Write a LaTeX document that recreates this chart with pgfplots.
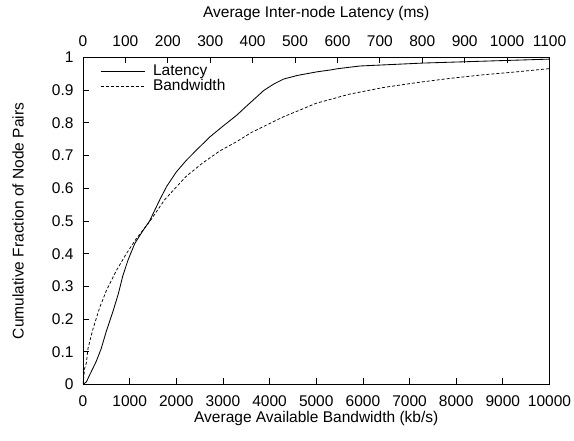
\documentclass[border=0pt]{standalone}
\usepackage{fontspec}
\setmainfont{Liberation Sans}
\usepackage{pgfplots}
\pgfplotsset{compat=1.18}
\begin{document}
\begin{tikzpicture}[font=\fontsize{15.5bp}{18bp}\selectfont]
\useasboundingbox (0,0) rectangle (574bp,441bp);
\pgfplotsset{
  common/.style={
    at={(83bp,56.5bp)}, anchor=south west,
    scale only axis, width=466.5bp, height=327bp,
    ymin=0, ymax=1,
    tick align=inside, major tick length=6bp,
    scaled x ticks=false, scaled y ticks=false,
    /pgf/number format/assume math mode=true,
    /pgf/number format/1000 sep={},
    tick label style={font=\fontsize{15.5bp}{18bp}\selectfont, black},
    label style={font=\fontsize{15.5bp}{18bp}\selectfont},
    axis line style={line width=0.9bp},
    every tick/.style={black, line width=0.8bp},
  }
}
% Bandwidth axis (bottom)
\begin{axis}[common,
  xmin=0, xmax=10000,
  xtick={0,1000,...,10000},
  ytick={0,0.1,...,1},
  yticklabels={0,0.1,0.2,0.3,0.4,0.5,0.6,0.7,0.8,0.9,1},
  xtick pos=bottom, ytick pos=left,
  xticklabel style={yshift=-8bp},
  yticklabel style={xshift=-6bp},
  xlabel={Average Available Bandwidth (kb/s)},
  ylabel={Cumulative Fraction of Node Pairs},
  xlabel style={at={(axis description cs:0.5,-0.104)}, anchor=center},
  ylabel style={at={(axis description cs:-0.139,0.5)}, anchor=center},
]
\addplot[black, line width=0.75bp, dash pattern=on 3bp off 2bp] coordinates {
(0,0) (36,0.05) (71,0.065) (107,0.11) (214,0.17) (357,0.235) (500,0.287)
(714,0.348) (929,0.40) (1143,0.446) (1429,0.498) (1750,0.565) (2214,0.637)
(2571,0.678) (2929,0.714) (3286,0.742) (3600,0.770) (4000,0.798) (4286,0.818)
(5000,0.860) (5714,0.888) (6429,0.908) (7143,0.923) (7857,0.936) (8571,0.947)
(9286,0.956) (10000,0.966)
};
\end{axis}
% Latency axis (top)
\begin{axis}[common,
  xmin=0, xmax=1100,
  xtick={0,100,...,1100},
  axis x line*=top, axis y line=none,
  xticklabel style={yshift=7bp},
  xlabel={Average Inter-node Latency (ms)},
  xlabel style={at={(axis description cs:0.5,1.135)}, anchor=center},
  legend style={draw=none, fill=none, at={(axis description cs:0.03,0.99)}, anchor=north west,
    font=\fontsize{15.5bp}{18bp}\selectfont, row sep=-1.5bp, column sep=6bp},
  legend cell align=left,
  legend image code/.code={\draw[#1] (0bp,0bp) -- (44bp,0bp);},
]
\addplot[black, line width=0.85bp] coordinates {
(0,0) (8,0.008) (16,0.03) (31,0.07) (43,0.11) (55,0.163) (71,0.225) (83,0.276)
(94,0.333) (106,0.38) (122,0.431) (142,0.472) (157,0.50) (181,0.565) (197,0.605)
(220,0.65) (244,0.686) (270,0.72) (299,0.757) (330,0.79) (362,0.823) (387,0.853)
(410,0.88) (426,0.899) (450,0.919) (473,0.934) (505,0.945) (551,0.956) (584,0.962)
(602,0.966) (653,0.974) (802,0.983) (1000,0.991) (1100,0.995)
};
\addlegendentry{Latency}
\addlegendimage{black, line width=0.75bp, dash pattern=on 3bp off 2bp}
\addlegendentry{Bandwidth}
\end{axis}
\end{tikzpicture}
\end{document}
